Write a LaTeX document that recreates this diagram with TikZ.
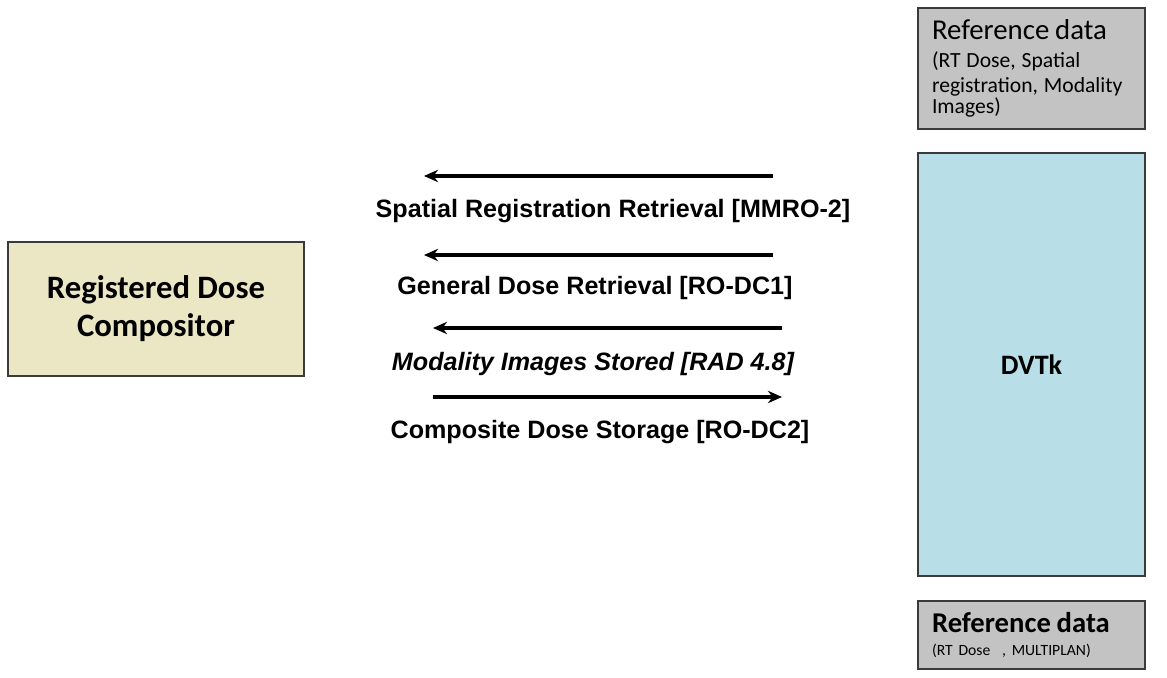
\documentclass[tikz,border=0pt]{standalone}
\usepackage{fontspec}
\setmainfont{Carlito}
\newfontfamily\arialfont{Liberation Sans}
\usetikzlibrary{arrows.meta,positioning}
\definecolor{compfill}{HTML}{EBE6C3}
\definecolor{reffill}{HTML}{C3C3C3}
\definecolor{dvtkfill}{HTML}{B8DEE8}
\definecolor{boxline}{HTML}{3A3A3A}
\tikzset{
  box/.style={draw=boxline, line width=0.8pt, inner sep=0pt},
  msg/.style={line width=1.8pt, -{Stealth[length=8pt, width=7pt]}},
  msglabel/.style={font=\arialfont\bfseries\fontsize{14.3}{17}\selectfont, inner sep=0pt}
}
\begin{document}
\begin{tikzpicture}[x=0.02cm, y=-0.02cm]
  \useasboundingbox (0,0) rectangle (1167,678);
  % boxes
  \node[box, fill=compfill, minimum width=5.92cm, minimum height=2.68cm,
        align=center, font=\bfseries\fontsize{18.6}{21.6}\selectfont] (comp) at (156,309)
        {\raisebox{-1.7pt}{Registered Dose}\\\raisebox{-1.7pt}{Compositor}};
  \node[box, fill=reffill, minimum width=4.54cm, minimum height=2.42cm,
        text width=3.98cm, align=left] (reftop) at (1031.5,68.5)
        {{\fontsize{16.4}{17}\selectfont Reference data}\\[1.5pt]
         {\fontsize{12.3}{14.2}\selectfont (RT Dose, Spatial\\registration, Modality\\Images)}};
  \node[box, fill=dvtkfill, minimum width=4.54cm, minimum height=8.46cm,
        font=\bfseries\fontsize{16}{18}\selectfont] (dvtk) at (1031.5,364.5) {\raisebox{-1.7pt}{DVTk}};
  \node[box, fill=reffill, minimum width=4.54cm, minimum height=1.36cm,
        text width=3.98cm, align=left] (refbot) at (1031.5,635)
        {{\bfseries\fontsize{16.3}{17}\selectfont Reference data}\\[1.5pt]
         {\fontsize{8.9}{10}\selectfont (RT Dose~~, MULTIPLAN)}};
  % message ends
  \coordinate (s1) at (773,176); \coordinate (e1) at (424,176);
  \coordinate (s2) at (773,255); \coordinate (e2) at (424,255);
  \coordinate (s3) at (782,328); \coordinate (e3) at (433,328);
  \coordinate (s4) at (433,397); \coordinate (e4) at (782,397);
  % messages
  \draw[msg] (s1) -- (e1);
  \draw[msg] (s2) -- (e2);
  \draw[msg] (s3) -- (e3);
  \draw[msg] (s4) -- (e4);
  % labels
  \node[msglabel] (l1) at (613,211) {Spatial Registration Retrieval [MMRO-2]};
  \node[msglabel] (l2) at (595,288) {General Dose Retrieval [RO-DC1]};
  \node[msglabel, font=\arialfont\bfseries\itshape\fontsize{14.3}{17}\selectfont] (l3) at (593,364)
        {Modality Images Stored [RAD 4.8]};
  \node[msglabel] (l4) at (600,432) {Composite Dose Storage [RO-DC2]};
\end{tikzpicture}
\end{document}
